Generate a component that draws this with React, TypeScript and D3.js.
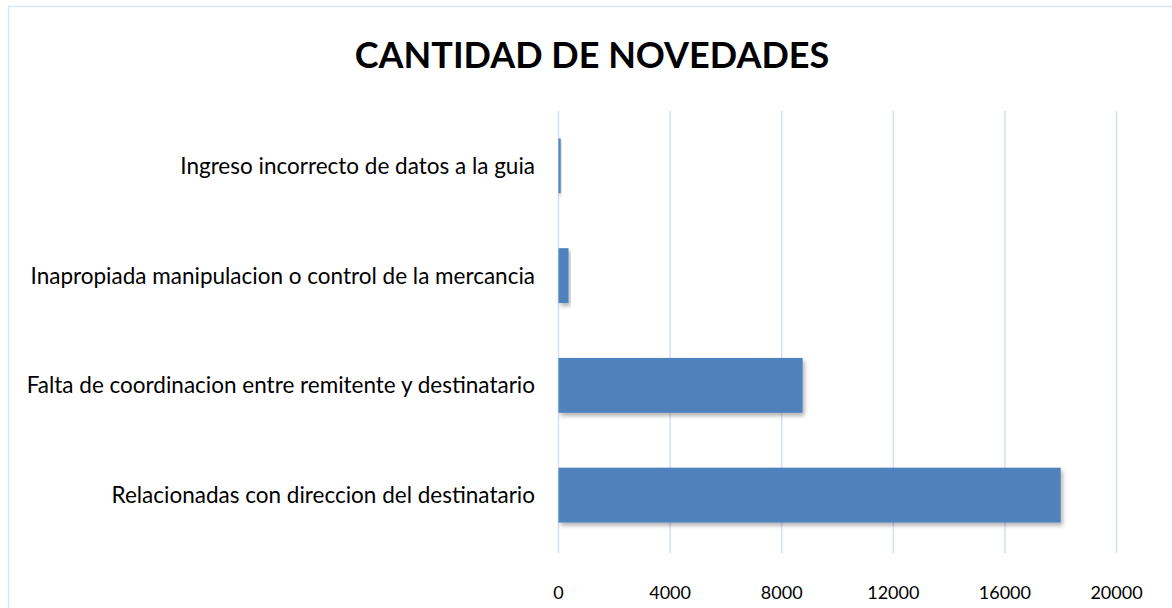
import { useEffect, useRef } from "react";
import * as d3 from "d3";

// Datos
const categories = [
  "Ingreso incorrecto de datos a la guia",
  "Inapropiada manipulacion o control de la mercancia",
  "Falta de coordinacion entre remitente y destinatario",
  "Relacionadas con direccion del destinatario",
];
const values = [80, 360, 8750, 18000];
const xTicks = [0, 4000, 8000, 12000, 16000, 20000];
const title = "CANTIDAD DE NOVEDADES";

const width = 1172;
const height = 608;
const font = "Lato, 'Open Sans', sans-serif";

export default function App() {
  const svgRef = useRef<SVGSVGElement>(null);

  useEffect(() => {
    if (!svgRef.current) return;
    const svg = d3.select(svgRef.current);
    svg.selectAll("*").remove();

    // zone de tracé
    const left = 558.5;
    const right = 1116.5;
    const top = 111;
    const bottom = 550;

    const x = d3.scaleLinear().domain([0, 20000]).range([left, right]);
    const y = d3
      .scaleBand<string>()
      .domain(categories)
      .range([top, bottom])
      .paddingInner(0.5)
      .paddingOuter(0.25);

    const defs = svg.append("defs");
    const f = defs
      .append("filter")
      .attr("id", "shadow")
      .attr("x", "-10%")
      .attr("y", "-20%")
      .attr("width", "130%")
      .attr("height", "160%");
    f.append("feDropShadow")
      .attr("dx", 2)
      .attr("dy", 3)
      .attr("stdDeviation", 2)
      .attr("flood-color", "#000")
      .attr("flood-opacity", 0.3);

    // fond + bordure
    svg
      .append("rect")
      .attr("width", width)
      .attr("height", height)
      .attr("fill", "#fff");
    svg
      .append("rect")
      .attr("x", 8.5)
      .attr("y", 6.5)
      .attr("width", width + 20)
      .attr("height", height + 20)
      .attr("fill", "none")
      .attr("stroke", "#d9e5f6")
      .attr("stroke-width", 1.5);

    // titre
    svg
      .append("text")
      .attr("x", 592)
      .attr("y", 68)
      .attr("text-anchor", "middle")
      .style("font-family", font)
      .style("font-weight", "bold")
      .style("font-size", "36px")
      .style("fill", "#000")
      .text(title);

    // grille verticale
    svg
      .append("g")
      .selectAll("line")
      .data(xTicks)
      .enter()
      .append("line")
      .attr("x1", (d) => x(d))
      .attr("x2", (d) => x(d))
      .attr("y1", top)
      .attr("y2", bottom + 3)
      .attr("stroke", "#d5e1f2")
      .attr("stroke-width", 1.5);

    // barres
    svg
      .append("g")
      .selectAll("rect")
      .data(values)
      .enter()
      .append("rect")
      .attr("x", x(0))
      .attr("y", (d, i) => y(categories[i])!)
      .attr("width", (d) => x(d) - x(0))
      .attr("height", y.bandwidth())
      .attr("fill", "#4f81bd")
      .attr("filter", "url(#shadow)");

    // étiquettes des catégories
    svg
      .append("g")
      .selectAll("text")
      .data(categories)
      .enter()
      .append("text")
      .attr("x", 535)
      .attr("y", (d) => y(d)! + y.bandwidth() / 2)
      .attr("dy", "0.35em")
      .attr("text-anchor", "end")
      .style("font-family", font)
      .style("font-size", "22.5px")
      .style("fill", "#000")
      .text((d) => d);

    // étiquettes de l'axe x
    svg
      .append("g")
      .selectAll("text")
      .data(xTicks)
      .enter()
      .append("text")
      .attr("x", (d) => x(d))
      .attr("y", 593)
      .attr("dy", "0.35em")
      .attr("text-anchor", "middle")
      .style("font-family", font)
      .style("font-size", "18px")
      .style("fill", "#000")
      .text((d) => String(d));
  }, []);

  return (
    <div style={{ position: "absolute", left: 0, top: 0 }}>
      <svg ref={svgRef} width={width} height={height} style={{ display: "block" }} />
    </div>
  );
}
